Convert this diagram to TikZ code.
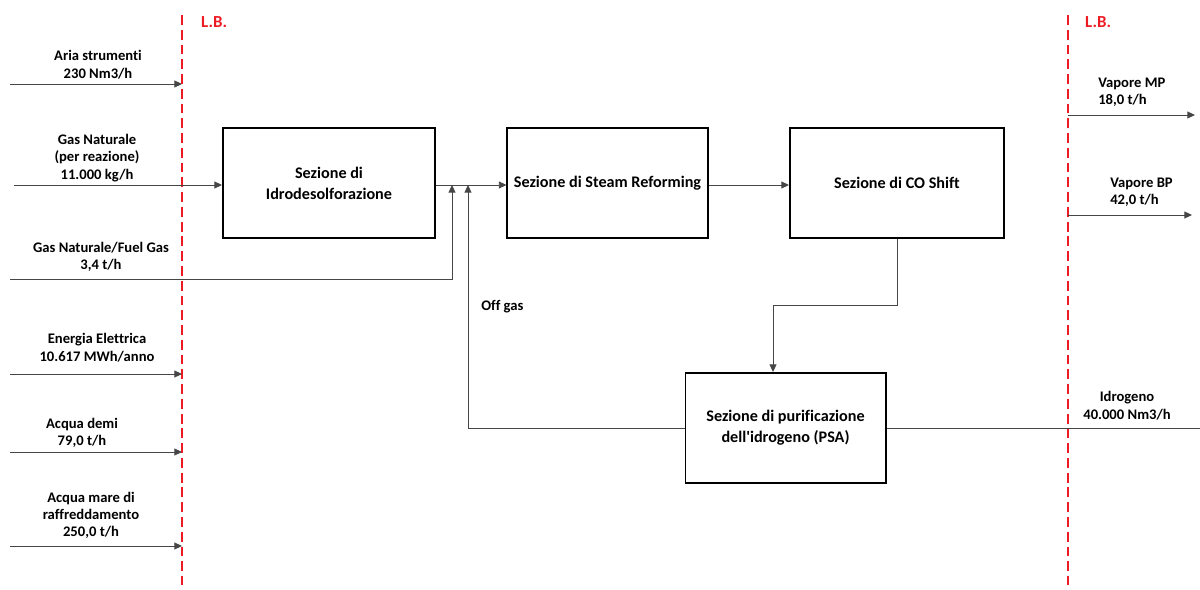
\documentclass[tikz,border=0pt]{standalone}
\usepackage{fontspec}
\setmainfont{Carlito}[Ligatures={NoCommon}]
\usetikzlibrary{arrows.meta,positioning}
\definecolor{LimitRed}{RGB}{237,28,36}
\definecolor{FlowGray}{RGB}{70,70,70}

\tikzset{
  section/.style={draw,line width=1.4pt,minimum height=2.75cm,align=center,
    font=\fontsize{11.5}{15}\selectfont\bfseries},
  flow/.style={FlowGray,line width=0.7pt},
  flowarrow/.style={flow,-{Triangle[length=5.5pt,width=5pt]}},
  tag/.style={align=center,inner sep=0pt},
  limit/.style={LimitRed,line width=1.6pt,dash pattern=on 7pt off 3.5pt}
}

\begin{document}
\begin{tikzpicture}[x=0.025cm,y=-0.025cm,font=\fontsize{10.4}{12.3}\selectfont\bfseries]
\useasboundingbox (0,0) rectangle (1200,590);
% battery limits
\coordinate (lbLtop) at (182,15);
\coordinate (lbLbot) at (182,585);
\coordinate (lbRtop) at (1068,15);
\coordinate (lbRbot) at (1068,585);
\draw[limit] (lbLtop) -- (lbLbot);
\draw[limit] (lbRtop) -- (lbRbot);
\node[tag,LimitRed,font=\fontsize{12}{14}\selectfont\bfseries] (lbL) at (214,22) {L.B.};
\node[tag,LimitRed,font=\fontsize{12}{14}\selectfont\bfseries] (lbR) at (1098,22) {L.B.};
% sections
\node[section,minimum width=5.3cm] (idro) at (329,183) {Sezione di\\Idrodesolforazione};
\node[section,minimum width=5.0cm] (steam) at (607.5,183) {Sezione di Steam Reforming};
\node[section,minimum width=5.35cm] (shift) at (897,183) {Sezione di CO Shift};
\node[section,minimum width=5.0cm] (psa) at (785.5,428) {Sezione di purificazione\\dell\textquotesingle idrogeno (PSA)};
% inputs
\coordinate (ariasrc) at (10,84);
\coordinate (gassrc) at (14,185);
\coordinate (fuelsrc) at (10,279);
\coordinate (elsrc) at (10,374);
\coordinate (demisrc) at (10,452);
\coordinate (maresrc) at (10,546);
\draw[flowarrow] (ariasrc) -- (ariasrc -| lbLtop);
\draw[flowarrow] (gassrc) -- (gassrc -| idro.west);
\draw[flowarrow] (elsrc) -- (elsrc -| lbLtop);
\draw[flowarrow] (demisrc) -- (demisrc -| lbLtop);
\draw[flowarrow] (maresrc) -- (maresrc -| lbLtop);
\node[tag,anchor=south] (aria) at (98,79) {Aria strumenti\\230 Nm3/h};
\node[tag,anchor=south] (gas) at (97,182) {Gas Naturale\\(per reazione)\\11.000 kg/h};
\node[tag,anchor=south] (fuel) at (101,272) {Gas Naturale/Fuel Gas\\3,4 t/h};
\node[tag,anchor=south] (el) at (97,362) {Energia Elettrica\\10.617 MWh/anno};
\node[tag,anchor=south] (demi) at (82,448) {Acqua demi\\79,0 t/h};
\node[tag,anchor=south] (mare) at (91,539) {Acqua mare di\\raffreddamento\\250,0 t/h};
% main line
\coordinate (fueljoin) at (452,185);
\coordinate (offjoin) at (468,185);
\draw[flowarrow] (idro.east |- fueljoin) -- (steam.west |- fueljoin);
\draw[flowarrow] (fuelsrc) -| (fueljoin);
\draw[flowarrow] (steam.east |- fueljoin) -- (shift.west |- fueljoin);
\coordinate (bend) at (773,305);
\draw[flowarrow] (shift.south) |- (bend) -- (bend |- psa.north);
\draw[flowarrow] (psa.west) -| (offjoin);
\node[tag,anchor=west] (offgas) at (481,307) {Off gas};
% outputs
\coordinate (h2out) at (1200,428);
\draw[flow] (psa.east) -- (h2out);
\node[tag,anchor=south] (h2) at (1127,420) {Idrogeno\\40.000 Nm3/h};
\coordinate (mpout) at (1195,115);
\coordinate (bpout) at (1192,215);
\draw[flowarrow] (mpout -| lbRtop) -- (mpout);
\draw[flowarrow] (bpout -| lbRtop) -- (bpout);
\node[tag,anchor=south west,align=left] (mp) at (1098,107) {Vapore MP\\18,0 t/h};
\node[tag,anchor=south west,align=left] (bp) at (1110,207) {Vapore BP\\42,0 t/h};
\end{tikzpicture}
\end{document}
